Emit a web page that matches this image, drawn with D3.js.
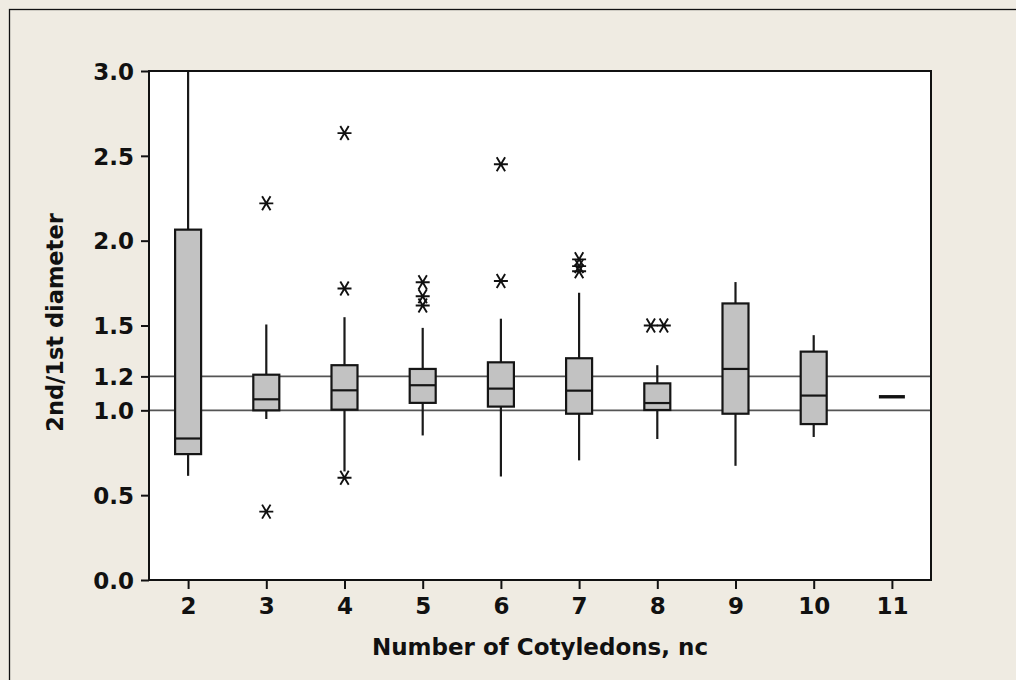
<!DOCTYPE html>
<html>
<head>
<meta charset="utf-8">
<script src="https://cdn.jsdelivr.net/npm/d3@7/dist/d3.min.js"></script>
<style>
  html, body { margin: 0; padding: 0; background: #EFEBE2; }
  svg { display: block; }
  text { font-family: "DejaVu Sans", Verdana, sans-serif; font-weight: bold; fill: #111; }
</style>
</head>
<body>
<svg id="chart" width="1016" height="680"></svg>
<script>
// ---- data ----
const categories  = [2, 3, 4, 5, 6, 7, 8, 9, 10, 11];
const whiskerLow  = [0.614, 0.949, 0.64, 0.852, 0.61, 0.705, 0.831, 0.673, 0.843, 1.08];
const q1          = [0.742, 1.000, 1.004, 1.044, 1.022, 0.980, 1.002, 0.980, 0.919, 1.08];
const median      = [0.834, 1.065, 1.118, 1.148, 1.128, 1.116, 1.043, 1.244, 1.087, 1.08];
const q3          = [2.065, 1.210, 1.266, 1.244, 1.283, 1.307, 1.159, 1.630, 1.346, 1.08];
const whiskerHigh = [3.000, 1.506, 1.549, 1.486, 1.540, 1.693, 1.266, 1.756, 1.443, 1.08];
const outliers    = [[], [2.22, 0.403], [2.634, 1.718, 0.603], [1.755, 1.672, 1.618],
                     [2.45, 1.762], [1.89, 1.85, 1.82], [1.5, 1.5], [], [], []];
const refLines    = [1.0, 1.2];
const yTicks      = [0.0, 0.5, 1.0, 1.2, 1.5, 2.0, 2.5, 3.0];
const xLabel = "Number of Cotyledons, nc";
const yLabel = "2nd/1st diameter";

// ---- layout ----
const svg = d3.select("#chart");
const L = 149, R = 931, T = 71, B = 580;

svg.append("rect").attr("x", 9.5).attr("y", 9.5).attr("width", 1020).attr("height", 700)
  .attr("fill", "#EFEBE2").attr("stroke", "#111").attr("stroke-width", 1.3);

const x = d3.scaleLinear().domain([1.5, 11.5]).range([L, R]);
const y = d3.scaleLinear().domain([0, 3]).range([B, T]);

// plot background
svg.append("rect").attr("x", L).attr("y", T).attr("width", R - L).attr("height", B - T).attr("fill", "#fff");

svg.append("clipPath").attr("id", "plotclip").append("rect")
  .attr("x", L).attr("y", T).attr("width", R - L).attr("height", B - T);

const g = svg.append("g").attr("clip-path", "url(#plotclip)");

// reference lines
g.selectAll("line.ref").data(refLines).enter().append("line")
  .attr("x1", L).attr("x2", R).attr("y1", d => y(d)).attr("y2", d => y(d))
  .attr("stroke", "#555").attr("stroke-width", 1.7);

const boxW = 26;
const data = categories.map((c, i) => ({
  c, lo: whiskerLow[i], q1: q1[i], med: median[i], q3: q3[i], hi: whiskerHigh[i], out: outliers[i]
}));

data.forEach(d => {
  const cx = x(d.c);
  if (d.q3 - d.q1 < 1e-9) {
    g.append("line").attr("x1", cx - boxW / 2).attr("x2", cx + boxW / 2)
      .attr("y1", y(d.med)).attr("y2", y(d.med)).attr("stroke", "#111").attr("stroke-width", 3.4);
    return;
  }
  // whiskers
  g.append("line").attr("x1", cx).attr("x2", cx).attr("y1", y(d.q3)).attr("y2", y(d.hi))
    .attr("stroke", "#1a1a1a").attr("stroke-width", 2.2);
  g.append("line").attr("x1", cx).attr("x2", cx).attr("y1", y(d.q1)).attr("y2", y(d.lo))
    .attr("stroke", "#1a1a1a").attr("stroke-width", 2.2);
  // box
  g.append("rect").attr("x", cx - boxW / 2).attr("width", boxW)
    .attr("y", y(d.q3)).attr("height", y(d.q1) - y(d.q3))
    .attr("fill", "#C2C2C2").attr("stroke", "#151515").attr("stroke-width", 2.2);
  g.append("line").attr("x1", cx - boxW / 2).attr("x2", cx + boxW / 2)
    .attr("y1", y(d.med)).attr("y2", y(d.med)).attr("stroke", "#151515").attr("stroke-width", 2.2);
  // outliers (duplicates placed side by side)
  const counts = d3.rollup(d.out, v => v.length, v => v);
  const seen = new Map();
  d.out.forEach(v => {
    const n = counts.get(v), k = seen.get(v) || 0;
    seen.set(v, k + 1);
    const ox = cx + (k - (n - 1) / 2) * 13;
    const oy = y(v);
    const s = 7;
    const p = `M${ox - s},${oy}L${ox + s},${oy}` +
              `M${ox - s * 0.6},${oy - s}L${ox + s * 0.6},${oy + s}` +
              `M${ox + s * 0.6},${oy - s}L${ox - s * 0.6},${oy + s}`;
    g.append("path").attr("d", p).attr("stroke", "#111").attr("stroke-width", 1.9).attr("fill", "none");
  });
});

// axes
const yAxis = d3.axisLeft(y).tickValues(yTicks).tickFormat(d3.format(".1f")).tickSize(8).tickPadding(7);
const xAxis = d3.axisBottom(x).tickValues(categories).tickFormat(d3.format("d")).tickSize(9).tickPadding(8);

const ya = svg.append("g").attr("transform", `translate(${L},0)`).call(yAxis);
const xa = svg.append("g").attr("transform", `translate(0,${B})`).call(xAxis);
[ya, xa].forEach(a => {
  a.select(".domain").remove();
  a.selectAll(".tick line").attr("stroke", "#111").attr("stroke-width", 2);
  a.selectAll(".tick text").style("font-size", "23px").attr("fill", "#111");
});
ya.selectAll(".tick text").attr("dy", "0.36em");
xa.selectAll(".tick text").attr("dy", "0.72em");

// plot frame
svg.append("rect").attr("x", L).attr("y", T).attr("width", R - L).attr("height", B - T)
  .attr("fill", "none").attr("stroke", "#111").attr("stroke-width", 2);

// labels
svg.append("text").attr("x", (L + R) / 2).attr("y", 655).attr("text-anchor", "middle")
  .style("font-size", "23px").text(xLabel);
svg.append("text").attr("transform", `translate(63,${(T + B) / 2 - 3}) rotate(-90)`)
  .attr("text-anchor", "middle").style("font-size", "22.5px").text(yLabel);
</script>
</body>
</html>
